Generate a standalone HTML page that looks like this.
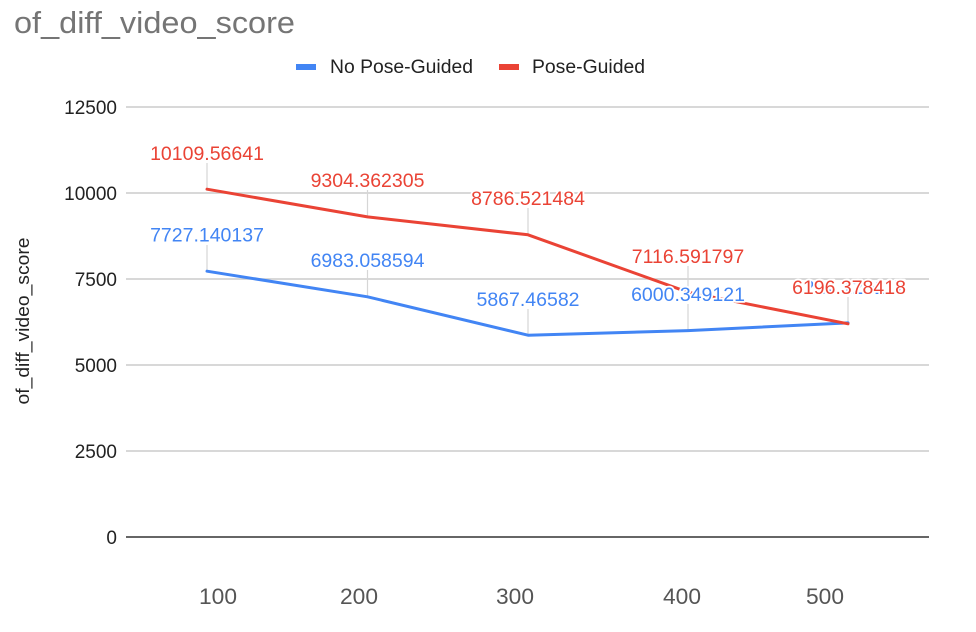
<!DOCTYPE html>
<html>
<head>
<meta charset="utf-8">
<style>
  html, body { margin: 0; padding: 0; background: #ffffff; }
  svg { display: block; }
  text { font-family: "Liberation Sans", Arial, sans-serif; }
  .lbl { font-size: 19.5px; stroke: #ffffff; stroke-width: 3.5px; paint-order: stroke; stroke-linejoin: round; }
</style>
</head>
<body>
<svg width="976" height="632" viewBox="0 0 976 632" xmlns="http://www.w3.org/2000/svg">
  <rect x="0" y="0" width="976" height="632" fill="#ffffff"/>

  <!-- Title -->
  <text x="14" y="33" font-size="31" fill="#757575" textLength="281" lengthAdjust="spacingAndGlyphs">of_diff_video_score</text>

  <!-- Legend -->
  <rect x="296" y="64" width="20" height="6" fill="#4285F4"/>
  <text x="330" y="73" font-size="19" fill="#222222" textLength="143" lengthAdjust="spacingAndGlyphs">No Pose-Guided</text>
  <rect x="499" y="64" width="20" height="6" fill="#EA4335"/>
  <text x="532" y="73" font-size="19" fill="#222222" textLength="113" lengthAdjust="spacingAndGlyphs">Pose-Guided</text>

  <!-- Gridlines -->
  <g stroke="#cccccc" stroke-width="1.5">
    <line x1="126" y1="107" x2="929" y2="107"/>
    <line x1="126" y1="193" x2="929" y2="193"/>
    <line x1="126" y1="279" x2="929" y2="279"/>
    <line x1="126" y1="365" x2="929" y2="365"/>
    <line x1="126" y1="451" x2="929" y2="451"/>
  </g>
  <line x1="126" y1="537" x2="929" y2="537" stroke="#333333" stroke-width="1.6"/>

  <!-- Y tick labels -->
  <g font-size="19" fill="#222222" text-anchor="end">
    <text x="117" y="114">12500</text>
    <text x="117" y="200">10000</text>
    <text x="117" y="286">7500</text>
    <text x="117" y="372">5000</text>
    <text x="117" y="458">2500</text>
    <text x="117" y="544">0</text>
  </g>

  <!-- Y axis title -->
  <text transform="translate(29,321) rotate(-90)" text-anchor="middle" font-size="18" fill="#222222" textLength="167" lengthAdjust="spacingAndGlyphs">of_diff_video_score</text>

  <!-- X tick labels -->
  <g font-size="22" fill="#555555" text-anchor="middle">
    <text x="218" y="604" textLength="38" lengthAdjust="spacingAndGlyphs">100</text>
    <text x="359" y="604" textLength="38" lengthAdjust="spacingAndGlyphs">200</text>
    <text x="515" y="604" textLength="38" lengthAdjust="spacingAndGlyphs">300</text>
    <text x="682" y="604" textLength="38" lengthAdjust="spacingAndGlyphs">400</text>
    <text x="825" y="604" textLength="38" lengthAdjust="spacingAndGlyphs">500</text>
  </g>

  <!-- Leader lines -->
  <g stroke="#d6d6d6" stroke-width="1.2">
    <line x1="207" y1="163" x2="207" y2="189"/>
    <line x1="367.5" y1="190" x2="367.5" y2="217"/>
    <line x1="528" y1="208" x2="528" y2="235"/>
    <line x1="688" y1="266" x2="688" y2="292"/>
    <line x1="848" y1="297" x2="848" y2="324"/>
    <line x1="207" y1="245" x2="207" y2="271"/>
    <line x1="367.5" y1="270" x2="367.5" y2="297"/>
    <line x1="528" y1="309" x2="528" y2="335"/>
    <line x1="688" y1="304" x2="688" y2="331"/>
  </g>

  <!-- Series lines -->
  <polyline points="207,271.2 367.5,296.8 528,335.2 688,330.6 848,322.9" fill="none" stroke="#4285F4" stroke-width="3" stroke-linejoin="round" stroke-linecap="round"/>
  <polyline points="207,189.2 367.5,216.9 528,234.8 688,292.2 848,323.8" fill="none" stroke="#EA4335" stroke-width="3" stroke-linejoin="round" stroke-linecap="round"/>

  <!-- Data labels: blue -->
  <g class="lbl" fill="#4285F4" text-anchor="middle">
    <text x="207" y="241.5">7727.140137</text>
    <text x="367.5" y="267">6983.058594</text>
    <text x="528" y="306">5867.46582</text>
    <text x="688" y="301">6000.349121</text>
    <text x="849" y="294">6224.120117</text>
  </g>
  <!-- Data labels: red -->
  <g class="lbl" fill="#EA4335" text-anchor="middle">
    <text x="207" y="160">10109.56641</text>
    <text x="367.5" y="187">9304.362305</text>
    <text x="528" y="205">8786.521484</text>
    <text x="688" y="263">7116.591797</text>
    <text x="849" y="294">6196.378418</text>
  </g>
</svg>
</body>
</html>
